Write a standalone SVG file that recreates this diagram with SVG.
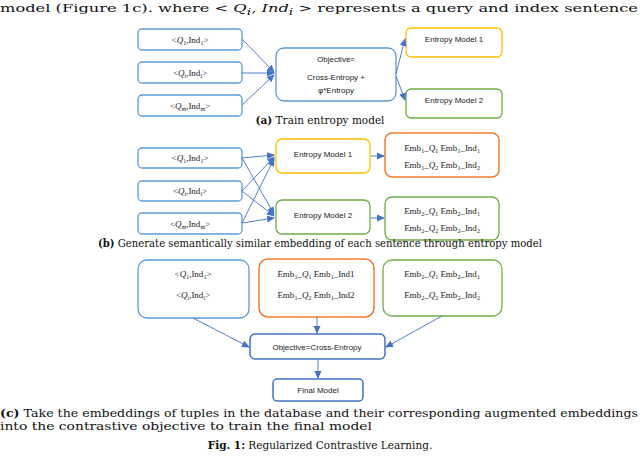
<svg xmlns="http://www.w3.org/2000/svg" width="640" height="460" viewBox="0 0 640 460">
<defs>
<marker id="ah" markerWidth="8" markerHeight="8" refX="7" refY="4" orient="auto" markerUnits="userSpaceOnUse"><path d="M0,0.5 L8,4 L0,7.5 z" fill="#4472c4"/></marker>
<style>
.b{fill:#fff;stroke:#5b9bd5;stroke-width:1.3}
.bd{fill:#fff;stroke:#4472c4;stroke-width:1.5}
.y{fill:#fff;stroke:#ffc000;stroke-width:1.3}
.g{fill:#fff;stroke:#70ad47;stroke-width:1.3}
.o{fill:#fff;stroke:#ed7d31;stroke-width:1.5}
.t{font-family:"Liberation Sans",Arial,sans-serif;font-size:8px;fill:#222;text-anchor:middle}
.m{font-family:"Liberation Serif",serif;font-size:9px;fill:#222;text-anchor:middle}
.cap{font-family:"DejaVu Serif","Liberation Serif",serif;font-size:10.5px;fill:#111}
.c line{stroke:#4472c4;stroke-width:0.9;fill:none;marker-end:url(#ah)}
</style>
</defs>
<text class="cap" x="0" y="12" font-size="14" textLength="638" lengthAdjust="spacingAndGlyphs">model (Figure 1c).  where &lt; <tspan font-style="italic">Q<tspan font-size="9" dy="3">i</tspan><tspan dy="-3">, Ind</tspan><tspan font-size="9" dy="3">i</tspan></tspan><tspan dy="-3"> &gt; represents a query and index sentence</tspan></text>

<!-- (a) -->
<g id="a_in1"><rect class="b" x="138" y="29" width="104" height="21" rx="4"/><text class="m" x="190" y="43">&lt;<tspan font-style="italic">Q</tspan><tspan font-size="6" dy="2">1</tspan><tspan dy="-2">,Ind</tspan><tspan font-size="6" dy="2">1</tspan><tspan dy="-2">&gt;</tspan></text></g>
<g id="a_in2"><rect class="b" x="138" y="62" width="104" height="21" rx="4"/><text class="m" x="190" y="76">&lt;<tspan font-style="italic">Q</tspan><tspan font-size="6" dy="2">i</tspan><tspan dy="-2">,Ind</tspan><tspan font-size="6" dy="2">i</tspan><tspan dy="-2">&gt;</tspan></text></g>
<g id="a_in3"><rect class="b" x="138" y="95" width="104" height="21" rx="4"/><text class="m" x="190" y="109">&lt;<tspan font-style="italic">Q</tspan><tspan font-size="6" dy="2">m</tspan><tspan dy="-2">,Ind</tspan><tspan font-size="6" dy="2">m</tspan><tspan dy="-2">&gt;</tspan></text></g>
<g id="a_obj"><rect class="b" x="276" y="48" width="120" height="53" rx="8"/><text class="t" x="336" y="62">Objective=</text><text class="t" x="336" y="80">Cross-Entropy +</text><text class="t" x="336" y="93">φ*Entropy</text></g>
<g id="a_em1"><rect class="y" x="406" y="28" width="96" height="29" rx="5"/><text class="t" x="454" y="42">Entropy Model 1</text></g>
<g id="a_em2"><rect class="g" x="406" y="89" width="96" height="29" rx="5"/><text class="t" x="454" y="103">Entropy Model 2</text></g>
<text class="cap" x="320" y="124" text-anchor="middle"><tspan font-weight="bold">(a)</tspan> Train entropy model</text>

<!-- (b) -->
<g id="b_in1"><rect class="b" x="138" y="148" width="104" height="20" rx="4"/><text class="m" x="190" y="161">&lt;<tspan font-style="italic">Q</tspan><tspan font-size="6" dy="2">1</tspan><tspan dy="-2">,Ind</tspan><tspan font-size="6" dy="2">1</tspan><tspan dy="-2">&gt;</tspan></text></g>
<g id="b_in2"><rect class="b" x="138" y="181" width="104" height="20" rx="4"/><text class="m" x="190" y="194">&lt;<tspan font-style="italic">Q</tspan><tspan font-size="6" dy="2">i</tspan><tspan dy="-2">,Ind</tspan><tspan font-size="6" dy="2">i</tspan><tspan dy="-2">&gt;</tspan></text></g>
<g id="b_in3"><rect class="b" x="138" y="213" width="104" height="21" rx="4"/><text class="m" x="190" y="227">&lt;<tspan font-style="italic">Q</tspan><tspan font-size="6" dy="2">m</tspan><tspan dy="-2">,Ind</tspan><tspan font-size="6" dy="2">m</tspan><tspan dy="-2">&gt;</tspan></text></g>
<g id="b_em1"><rect class="y" x="276" y="139" width="94" height="34" rx="6"/><text class="t" x="323" y="157">Entropy Model 1</text></g>
<g id="b_em2"><rect class="g" x="276" y="200" width="94" height="34" rx="6"/><text class="t" x="323" y="218">Entropy Model 2</text></g>
<g id="b_emb1"><rect class="o" x="385" y="133" width="114" height="44" rx="7"/>
<text class="m" x="442" y="151">Emb<tspan font-size="6" dy="2">1</tspan><tspan dy="-2">_</tspan><tspan font-style="italic">Q</tspan><tspan font-size="6" dy="2">1</tspan><tspan dy="-2">   Emb</tspan><tspan font-size="6" dy="2">1</tspan><tspan dy="-2">_Ind</tspan><tspan font-size="6" dy="2">1</tspan></text>
<text class="m" x="442" y="168">Emb<tspan font-size="6" dy="2">1</tspan><tspan dy="-2">_</tspan><tspan font-style="italic">Q</tspan><tspan font-size="6" dy="2">2</tspan><tspan dy="-2">   Emb</tspan><tspan font-size="6" dy="2">1</tspan><tspan dy="-2">_Ind</tspan><tspan font-size="6" dy="2">2</tspan></text></g>
<g id="b_emb2"><rect class="g" x="385" y="197" width="114" height="43" rx="7"/>
<text class="m" x="442" y="214">Emb<tspan font-size="6" dy="2">2</tspan><tspan dy="-2">_</tspan><tspan font-style="italic">Q</tspan><tspan font-size="6" dy="2">1</tspan><tspan dy="-2">   Emb</tspan><tspan font-size="6" dy="2">2</tspan><tspan dy="-2">_Ind</tspan><tspan font-size="6" dy="2">1</tspan></text>
<text class="m" x="442" y="231">Emb<tspan font-size="6" dy="2">2</tspan><tspan dy="-2">_</tspan><tspan font-style="italic">Q</tspan><tspan font-size="6" dy="2">2</tspan><tspan dy="-2">   Emb</tspan><tspan font-size="6" dy="2">2</tspan><tspan dy="-2">_Ind</tspan><tspan font-size="6" dy="2">2</tspan></text></g>
<text class="cap" x="98" y="247" textLength="444" lengthAdjust="spacingAndGlyphs"><tspan font-weight="bold">(b)</tspan> Generate semantically similar embedding of each sentence through entropy model</text>

<!-- (c) -->
<g id="c_in"><rect class="b" x="138" y="260" width="111" height="58" rx="9"/><text class="m" x="193" y="277">&lt;<tspan font-style="italic">Q</tspan><tspan font-size="6" dy="2">1</tspan><tspan dy="-2">,Ind</tspan><tspan font-size="6" dy="2">1</tspan><tspan dy="-2">&gt;</tspan></text><text class="m" x="193" y="298">&lt;<tspan font-style="italic">Q</tspan><tspan font-size="6" dy="2">i</tspan><tspan dy="-2">,Ind</tspan><tspan font-size="6" dy="2">i</tspan><tspan dy="-2">&gt;</tspan></text></g>
<g id="c_emb1"><rect class="o" x="259" y="259" width="115" height="58" rx="9"/>
<text class="m" x="316" y="277">Emb<tspan font-size="6" dy="2">1</tspan><tspan dy="-2">_</tspan><tspan font-style="italic">Q</tspan><tspan font-size="6" dy="2">1</tspan><tspan dy="-2">   Emb</tspan><tspan font-size="6" dy="2">1</tspan><tspan dy="-2">_Ind1</tspan></text>
<text class="m" x="316" y="298">Emb<tspan font-size="6" dy="2">1</tspan><tspan dy="-2">_</tspan><tspan font-style="italic">Q</tspan><tspan font-size="6" dy="2">2</tspan><tspan dy="-2">   Emb</tspan><tspan font-size="6" dy="2">1</tspan><tspan dy="-2">_Ind2</tspan></text></g>
<g id="c_emb2"><rect class="g" x="383" y="260" width="119" height="56" rx="9"/>
<text class="m" x="442" y="277">Emb<tspan font-size="6" dy="2">2</tspan><tspan dy="-2">_</tspan><tspan font-style="italic">Q</tspan><tspan font-size="6" dy="2">1</tspan><tspan dy="-2">   Emb</tspan><tspan font-size="6" dy="2">2</tspan><tspan dy="-2">_Ind</tspan><tspan font-size="6" dy="2">1</tspan></text>
<text class="m" x="442" y="298">Emb<tspan font-size="6" dy="2">2</tspan><tspan dy="-2">_</tspan><tspan font-style="italic">Q</tspan><tspan font-size="6" dy="2">2</tspan><tspan dy="-2">   Emb</tspan><tspan font-size="6" dy="2">2</tspan><tspan dy="-2">_Ind</tspan><tspan font-size="6" dy="2">2</tspan></text></g>
<g id="c_obj"><rect class="bd" x="250" y="334" width="135" height="25" rx="5"/><text class="t" x="317" y="350">Objective=Cross-Entropy</text></g>
<g id="c_final"><rect class="bd" x="273" y="379" width="90" height="22" rx="4"/><text class="t" x="318" y="393">Final Model</text></g>
<text class="cap" x="0" y="417" textLength="638" lengthAdjust="spacingAndGlyphs"><tspan font-weight="bold">(c)</tspan> Take the embeddings of tuples in the database and their corresponding augmented embeddings</text>
<text class="cap" x="0" y="430" textLength="372" lengthAdjust="spacingAndGlyphs">into the contrastive objective to train the final model</text>
<text class="cap" x="320" y="449" text-anchor="middle" font-size="12"><tspan font-weight="bold">Fig. 1:</tspan> Regularized Contrastive Learning.</text>

<g id="connectors" class="c">
<line x1="242" y1="39" x2="274" y2="72"/>
<line x1="242" y1="73" x2="274" y2="73"/>
<line x1="242" y1="105" x2="274" y2="75"/>
<line x1="396" y1="74" x2="405" y2="39"/>
<line x1="396" y1="76" x2="405" y2="100"/>
<line x1="242" y1="158" x2="274" y2="155"/>
<line x1="242" y1="158" x2="274" y2="214"/>
<line x1="242" y1="191" x2="274" y2="157"/>
<line x1="242" y1="191" x2="274" y2="216"/>
<line x1="242" y1="223" x2="274" y2="159"/>
<line x1="242" y1="223" x2="274" y2="218"/>
<line x1="371" y1="156" x2="384" y2="156"/>
<line x1="371" y1="218" x2="384" y2="218"/>
<line x1="193" y1="318" x2="249" y2="347"/>
<line x1="317" y1="317" x2="317" y2="333"/>
<line x1="442" y1="316" x2="386" y2="347"/>
<line x1="318" y1="359" x2="318" y2="378"/>
</g>
</svg>
